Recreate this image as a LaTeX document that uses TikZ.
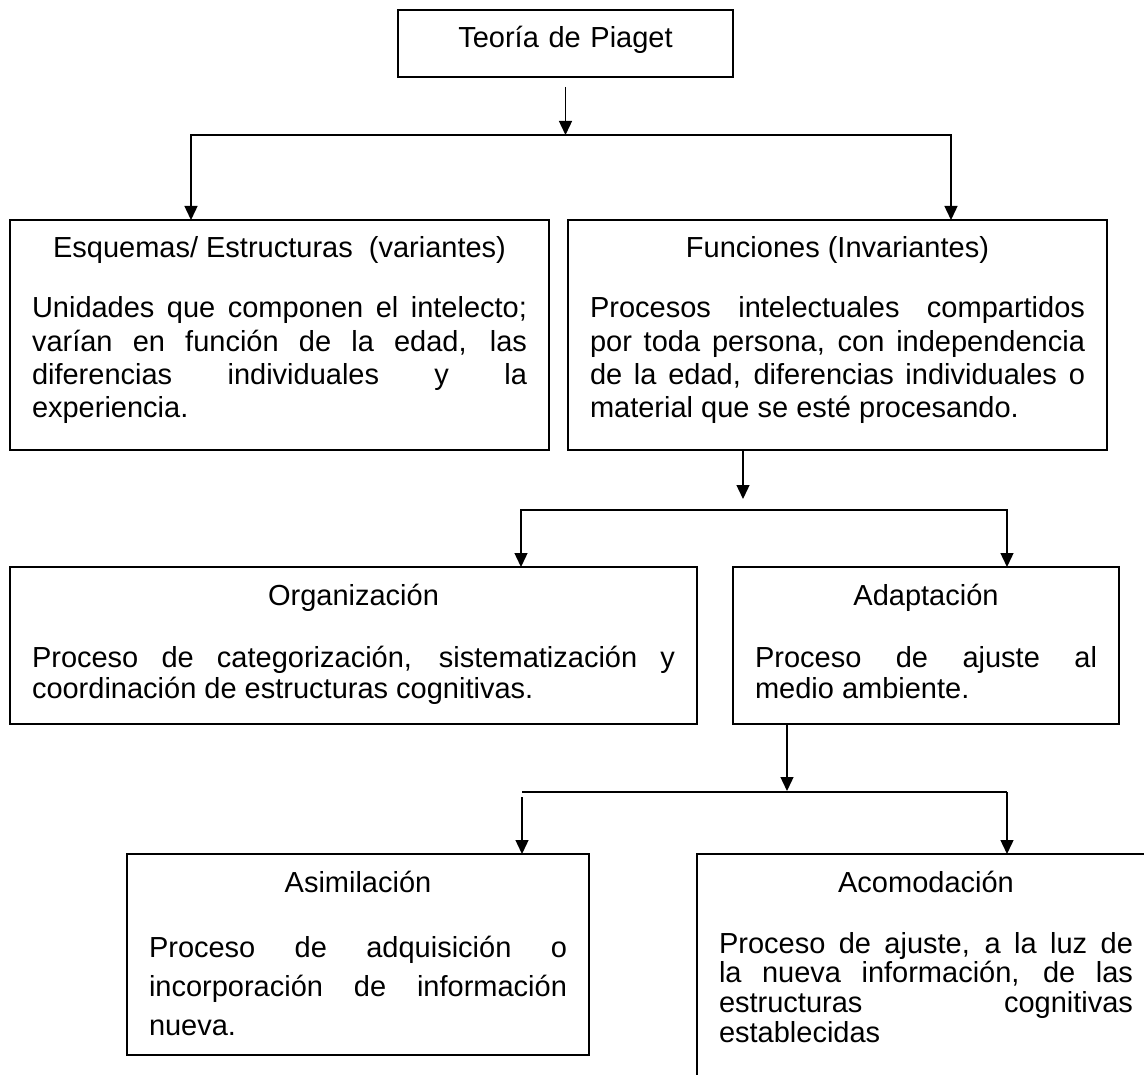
\documentclass[tikz,border=0pt]{standalone}
\usepackage{fontspec}
\setmainfont{Liberation Sans}
\usepackage{tikz}
\usetikzlibrary{arrows.meta}

\newcommand{\titulo}[2]{\hyphenpenalty=10000 \tolerance=10000 {\centering #1\par}\vspace{#2}}

\begin{document}
\begin{tikzpicture}[x=1pt,y=-1pt,>={Triangle[length=14pt,width=13pt]},line width=1.4pt]
  \tikzstyle{caja}=[draw=black,anchor=north west,inner xsep=22pt,inner ysep=0pt,outer sep=0pt,
                    text height=38pt,align=justify,font=\fontsize{29pt}{33.3pt}\selectfont]

  \useasboundingbox (0,0) rectangle (1144,1075);

  \node[caja,align=center,text width=291pt,text depth=29pt] (teoria) at (398,10) {Teoría de Piaget};

  \node[caja,text width=495pt,text depth=192pt] (esq) at (10,220)
    {\titulo{Esquemas/ Estructuras\ \ (variantes)}{26.7pt}Unidades que componen el intelecto;\linebreak
     varían en función de la edad, las\linebreak diferencias individuales y la\linebreak experiencia.};
  \node[caja,text width=495pt,text depth=192pt] (fun) at (568,220)
    {\titulo{Funciones (Invariantes)}{26.7pt}Procesos intelectuales compartidos\linebreak
     por toda persona, con independencia\linebreak de la edad, diferencias individuales o\linebreak
     material que se esté procesando.};

  \node[caja,text width=643pt,text depth=119pt,font=\fontsize{29pt}{31pt}\selectfont] (org) at (10,567)
    {\titulo{Organización}{31pt}Proceso de categorización, sistematización y\linebreak
     coordinación de estructuras cognitivas.};
  \node[caja,text width=342pt,text depth=119pt,font=\fontsize{29pt}{31pt}\selectfont] (ada) at (733,567)
    {\titulo{Adaptación}{31pt}Proceso de ajuste al\linebreak medio ambiente.};

  \node[caja,text width=418pt,text depth=163pt,font=\fontsize{29pt}{39pt}\selectfont] (asi) at (127,854)
    {\titulo{Asimilación}{26pt}Proceso de adquisición o\linebreak incorporación de información\linebreak nueva.};
  \node[caja,text width=414pt,text depth=260pt,font=\fontsize{29pt}{29.7pt}\selectfont] (aco) at (697,854)
    {\titulo{Acomodación}{31.3pt}Proceso de ajuste, a la luz de\linebreak la nueva información, de las\linebreak
     estructuras cognitivas\linebreak establecidas};

  % puntos de reparto
  \coordinate (b1l) at (191,135);
  \coordinate (b1r) at (951,135);
  \coordinate (f2)  at (743,499);
  \coordinate (b2l) at (521,510);
  \coordinate (b2r) at (1007,510);
  \coordinate (a3)  at (787,791);
  \coordinate (b3l) at (522,792);
  \coordinate (b3r) at (1007,792);

  \draw[->,shorten <=10pt] (teoria.south) -- (teoria.south |- b1l);
  \draw[<->] (esq.north -| b1l) |- (b1r) -- (fun.north -| b1r);

  \draw[->] (f2 |- fun.south) -- (f2);
  \draw[<->] (org.north -| b2l) |- (b2r) -- (ada.north -| b2r);

  \draw[->] (a3 |- ada.south) -- (a3);
  \draw (b3l) -- (b3r);
  \draw[->,shorten <=5pt] (b3l) -- (asi.north -| b3l);
  \draw[->] (b3r) -- (aco.north -| b3r);
\end{tikzpicture}
\end{document}
